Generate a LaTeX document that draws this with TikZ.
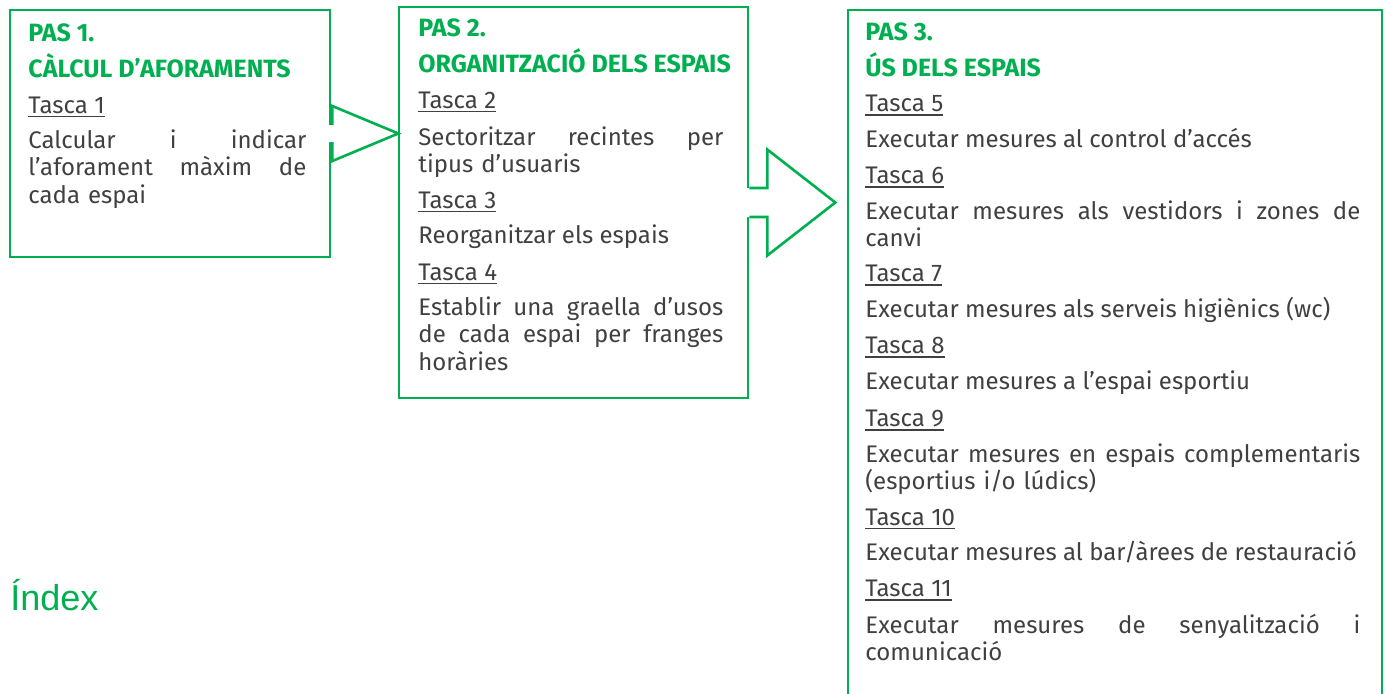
\documentclass[tikz,border=0pt]{standalone}
\usepackage{fontspec}
\setmainfont{Fira Sans}
\newfontfamily\indexfont{Liberation Sans}
\usepackage{xcolor}
\definecolor{pasgreen}{HTML}{00B050}
\definecolor{txtgray}{HTML}{404040}
\newcommand{\bodysize}{\fontsize{12}{13.8}\selectfont}
\newcommand{\headsize}{\fontsize{12.5}{14}\selectfont}
\newcommand{\jline}[2]{\makebox[#1][s]{\spaceskip=0pt\xspaceskip=0pt #2}}
\newcommand{\tsk}[1]{\setbox0\hbox{Tasca #1}\rlap{\rule[-2.1pt]{\wd0}{0.8pt}}\box0}
\tikzstyle{pasbox} = [rectangle, draw=pasgreen, line width=1.3pt, inner sep=0pt]
\tikzstyle{head} = [anchor=base west, inner sep=0pt, text=pasgreen, font=\headsize\bfseries]
\tikzstyle{tasca} = [anchor=base west, inner sep=0pt, text=txtgray, font=\bodysize]
\tikzstyle{para} = [tasca, align=left]
\tikzstyle{blockarrow} = [draw=pasgreen, line width=1.3pt, line join=miter]

\begin{document}
\begin{tikzpicture}[x=0.5pt, y=-0.5pt]
\useasboundingbox (0,0) rectangle (1386,693);
\clip (0,0) rectangle (1386,693);

% the three steps
\node[pasbox, minimum width=160pt, minimum height=123.5pt] (pas1) at (170,133.5) {};
\node[pasbox, minimum width=174.5pt, minimum height=195.5pt] (pas2) at (573.5,202.5) {};
\node[pasbox, minimum width=267pt, minimum height=355pt] (pas3) at (1115,365) {};

% block arrows between the steps
\path[fill=white] (pas1.east) ++(-3,-8.5) -- ++(4,0) -- ++(0,-19) -- ++(66,27.5) -- ++(-66,27.5) -- ++(0,-19) -- ++(-4,0) -- cycle;
\draw[blockarrow] (pas1.east) ++(1,-8.5) -- ++(0,-19) -- ++(66,27.5) -- ++(-66,27.5) -- ++(0,-19);
\path[fill=white] (pas2.east) ++(-3,-14.5) -- ++(21,0) -- ++(0,-38.5) -- ++(68,53) -- ++(-68,53) -- ++(0,-38.5) -- ++(-21,0) -- cycle;
\draw[blockarrow] (pas2.east) ++(0,-14.5) -- ++(18,0) -- ++(0,-38.5) -- ++(68,53) -- ++(-68,53) -- ++(0,-38.5) -- ++(-18,0);

% pas 1
\node[head] (h1a) at (28,41.7) {PAS 1.};
\node[head] (h1b) at (28,77.3) {CÀLCUL D’AFORAMENTS};
\node[tasca] (t1) at (28,113) {\tsk{1}};
\node[para, text width=139pt] (e1) at (28,148.3) {\jline{139pt}{Calcular i indicar}\\ \jline{139pt}{l’aforament màxim de}\\ cada espai};

% pas 2
\node[head] (h2a) at (418,36.7) {PAS 2.};
\node[head] (h2b) at (418,72.7) {ORGANITZACIÓ DELS ESPAIS};
\node[tasca] (t2) at (418,108) {\tsk{2}};
\node[para, text width=152.5pt] (e2) at (418,145) {\jline{152.5pt}{Sectoritzar recintes per}\\ tipus d’usuaris};
\node[tasca] (t3) at (418,208) {\tsk{3}};
\node[tasca] (e3) at (418,243) {Reorganitzar els espais};
\node[tasca] (t4) at (418,280) {\tsk{4}};
\node[para, text width=152.5pt] (e4) at (418,315) {\jline{152.5pt}{Establir una graella d’usos}\\ \jline{152.5pt}{de cada espai per franges}\\ horàries};

% pas 3
\node[head] (h3a) at (865,40.5) {PAS 3.};
\node[head] (h3b) at (865,76) {ÚS DELS ESPAIS};
\node[tasca] (t5) at (865,111.7) {\tsk{5}};
\node[tasca] (e5) at (865,147.3) {Executar mesures al control d’accés};
\node[tasca] (t6) at (865,183.3) {\tsk{6}};
\node[para, text width=247.5pt] (e6) at (865,219) {\jline{247.5pt}{Executar mesures als vestidors i zones de}\\ canvi};
\node[tasca] (t7) at (865,281.7) {\tsk{7}};
\node[tasca] (e7) at (865,317.3) {Executar mesures als serveis higiènics (wc)};
\node[tasca] (t8) at (865,353.3) {\tsk{8}};
\node[tasca] (e8) at (865,389) {Executar mesures a l’espai esportiu};
\node[tasca] (t9) at (865,426.7) {\tsk{9}};
\node[para, text width=247.5pt] (e9) at (865,462.3) {\jline{247.5pt}{Executar mesures en espais complementaris}\\ (esportius i/o lúdics)};
\node[tasca] (t10) at (865,525) {\tsk{10}};
\node[tasca] (e10) at (865,560.7) {Executar mesures al bar/àrees de restauració};
\node[tasca] (t11) at (865,596.7) {\tsk{11}};
\node[para, text width=247.5pt] (e11) at (865,633.3) {\jline{247.5pt}{Executar mesures de senyalització i}\\ comunicació};

\node[anchor=base west, inner sep=0pt, text=pasgreen, font=\indexfont\fontsize{18}{20}\selectfont] (index) at (10,610) {Índex};
\end{tikzpicture}
\end{document}
